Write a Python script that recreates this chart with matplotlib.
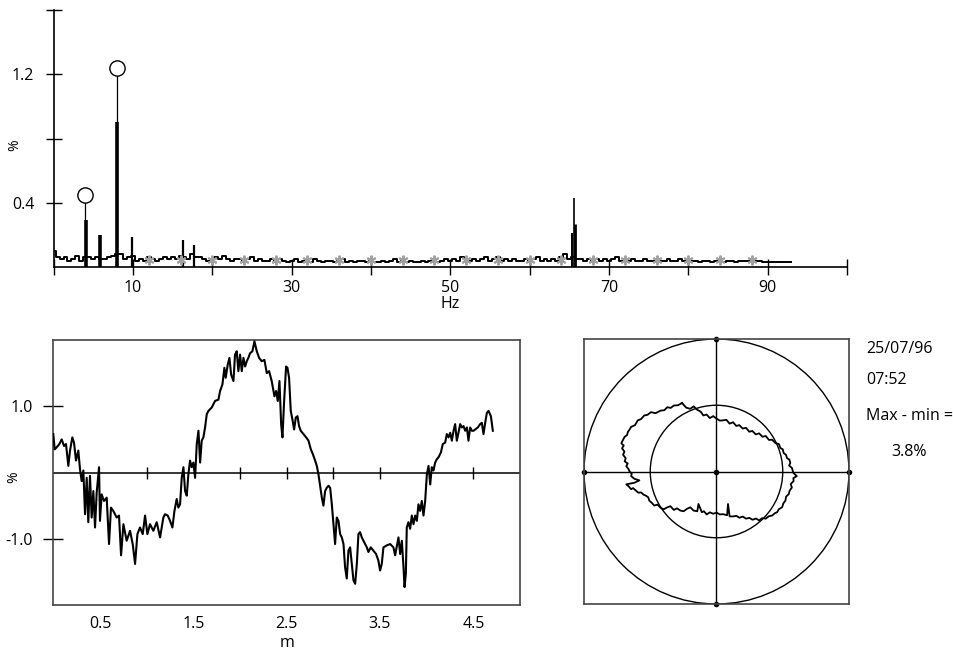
import numpy as np
import matplotlib
matplotlib.use("Agg")
import matplotlib.pyplot as plt
from matplotlib.patches import Circle

plt.rcParams['font.family'] = ['Open Sans', 'DejaVu Sans']

# ---------------- data: spectrum (top) ----------------
spec_step = 0.5
spec_base = [
    0.10, 0.06, 0.05, 0.06, 0.04, 0.05, 0.07, 0.04, 0.06, 0.06,   # 0 - 4.5 Hz
    0.05, 0.06, 0.05, 0.05, 0.06, 0.07, 0.08, 0.08, 0.05, 0.06,   # 5 - 9.5
    0.07, 0.04, 0.05, 0.04, 0.06, 0.05, 0.04, 0.05, 0.06, 0.05,   # 10 - 14.5
    0.06, 0.05, 0.07, 0.06, 0.05, 0.08, 0.06, 0.06, 0.05, 0.04,   # 15 - 19.5
    0.05, 0.06, 0.05, 0.07, 0.05, 0.04, 0.05, 0.05, 0.04, 0.05,   # 20 - 24.5
    0.06, 0.04, 0.05, 0.04, 0.04, 0.05, 0.04, 0.05, 0.04, 0.03,   # 25 - 29.5
    0.04, 0.05, 0.03, 0.04, 0.04, 0.03, 0.05, 0.04, 0.03, 0.04,   # 30 - 34.5
    0.04, 0.03, 0.04, 0.05, 0.03, 0.04, 0.03, 0.04, 0.04, 0.03,   # 35 - 39.5
    0.04, 0.03, 0.03, 0.04, 0.03, 0.04, 0.05, 0.03, 0.04, 0.03,   # 40 - 44.5
    0.04, 0.03, 0.03, 0.04, 0.03, 0.04, 0.03, 0.03, 0.04, 0.05,   # 45 - 49.5
    0.04, 0.05, 0.04, 0.06, 0.05, 0.04, 0.05, 0.04, 0.05, 0.06,   # 50 - 54.5
    0.04, 0.05, 0.06, 0.04, 0.05, 0.04, 0.05, 0.04, 0.04, 0.05,   # 55 - 59.5
    0.04, 0.05, 0.06, 0.04, 0.05, 0.04, 0.05, 0.04, 0.06, 0.08,   # 60 - 64.5
    0.05, 0.06, 0.05, 0.05, 0.04, 0.05, 0.04, 0.05, 0.04, 0.05,   # 65 - 69.5
    0.04, 0.05, 0.06, 0.04, 0.05, 0.04, 0.05, 0.04, 0.04, 0.05,   # 70 - 74.5
    0.04, 0.04, 0.05, 0.04, 0.04, 0.05, 0.04, 0.04, 0.05, 0.04,   # 75 - 79.5
    0.05, 0.04, 0.04, 0.03, 0.04, 0.04, 0.03, 0.04, 0.04, 0.03,   # 80 - 84.5
    0.04, 0.04, 0.03, 0.04, 0.04, 0.04, 0.03, 0.04, 0.04, 0.03,   # 85 - 89.5
    0.03, 0.03, 0.03, 0.03, 0.03, 0.03, 0.03,                     # 90 - 93
]
spec_freq = np.arange(len(spec_base)) * spec_step

spike_freqs = [4.1, 5.9, 8.0, 9.85, 16.3, 17.75, 65.3, 65.55, 65.75]
spike_amps = [0.29, 0.20, 0.90, 0.185, 0.17, 0.14, 0.21, 0.43, 0.27]
spike_widths = [2.6, 2.6, 2.6, 1.6, 1.6, 1.6, 1.4, 1.2, 2.0]

peak_freqs = [3.95, 7.98]
peak_amps = [0.45, 1.24]

harm_freqs = [12, 16, 20, 24, 28, 32, 36, 40, 44, 48, 52, 56, 60, 64,
              68, 72, 76, 80, 84, 88]
harm_level = [0.045] * len(harm_freqs)

top_xticks = [0, 10, 20, 30, 40, 50, 60, 70, 80, 90, 100]
top_xlabels = ['', '10', '', '30', '', '50', '', '70', '', '90', '']
top_yticks = [0.4, 0.8, 1.2, 1.6]
top_ylabels = ['0.4', '', '1.2', '']

# ---------------- data: longitudinal profile (bottom left) ----------------
prof_x = [0.000, 0.015, 0.036, 0.065, 0.090, 0.115, 0.136, 0.161, 0.179, 0.204,
          0.222, 0.243, 0.268, 0.286, 0.304, 0.322, 0.340, 0.358, 0.375, 0.393,
          0.411, 0.429, 0.447, 0.465, 0.490, 0.500, 0.518, 0.543, 0.572, 0.597,
          0.618, 0.643, 0.679, 0.704, 0.726, 0.751, 0.786, 0.822, 0.851, 0.876,
          0.901, 0.929, 0.958, 0.983, 1.008, 1.036, 1.072, 1.108, 1.144, 1.179,
          1.197, 1.226, 1.251, 1.276, 1.298, 1.322, 1.340, 1.358, 1.376, 1.394,
          1.412, 1.430, 1.447, 1.465, 1.483, 1.501, 1.519, 1.537, 1.555, 1.573,
          1.590, 1.608, 1.626, 1.644, 1.662, 1.697, 1.733, 1.769, 1.787, 1.812,
          1.833, 1.847, 1.869, 1.887, 1.905, 1.930, 1.947, 1.965, 1.983, 2.001,
          2.019, 2.037, 2.055, 2.073, 2.090, 2.108, 2.133, 2.155, 2.180, 2.205,
          2.233, 2.262, 2.287, 2.312, 2.340, 2.369, 2.387, 2.405, 2.423, 2.441,
          2.455, 2.473, 2.494, 2.509, 2.526, 2.544, 2.562, 2.580, 2.598, 2.616,
          2.633, 2.651, 2.680, 2.709, 2.734, 2.759, 2.780, 2.805, 2.823, 2.841,
          2.859, 2.877, 2.894, 2.912, 2.930, 2.948, 2.966, 2.984, 3.002, 3.019,
          3.037, 3.055, 3.073, 3.091, 3.109, 3.126, 3.144, 3.162, 3.180, 3.198,
          3.216, 3.234, 3.252, 3.269, 3.287, 3.305, 3.323, 3.341, 3.359, 3.376,
          3.401, 3.430, 3.458, 3.483, 3.501, 3.519, 3.537, 3.573, 3.609, 3.644,
          3.662, 3.698, 3.716, 3.734, 3.752, 3.763, 3.777, 3.787, 3.805, 3.823,
          3.841, 3.859, 3.877, 3.895, 3.912, 3.930, 3.948, 3.966, 3.984, 4.002,
          4.020, 4.038, 4.055, 4.073, 4.091, 4.109, 4.127, 4.152, 4.173, 4.198,
          4.216, 4.234, 4.252, 4.270, 4.288, 4.305, 4.323, 4.341, 4.359, 4.377,
          4.395, 4.413, 4.431, 4.448, 4.466, 4.484, 4.502, 4.520, 4.548, 4.573,
          4.591, 4.609, 4.627, 4.645, 4.663, 4.688, 4.709]
prof_y = [0.58, 0.35, 0.38, 0.43, 0.50, 0.40, 0.43, 0.10, 0.33, 0.53,
          0.45, 0.18, 0.33, 0.05, -0.13, 0.03, -0.63, -0.08, -0.75, -0.05,
          -0.68, -0.28, -0.83, -0.30, 0.08, -0.73, -0.33, -0.43, -0.38, -1.08,
          -0.53, -0.58, -0.68, -0.65, -1.25, -0.78, -1.03, -0.88, -1.08, -1.38,
          -0.93, -0.83, -0.93, -0.65, -0.93, -0.78, -0.88, -0.75, -0.98, -0.68,
          -0.63, -0.65, -0.73, -0.83, -0.58, -0.40, -0.53, -0.48, -0.08, 0.08,
          -0.28, -0.35, -0.03, 0.18, 0.08, 0.15, -0.08, 0.43, 0.63, 0.15,
          0.48, 0.53, 0.68, 0.88, 0.93, 0.98, 1.08, 1.10, 1.23, 1.33,
          1.58, 1.43, 1.63, 1.73, 1.48, 1.38, 1.78, 1.83, 1.53, 1.78,
          1.53, 1.73, 1.60, 1.68, 1.73, 1.80, 1.83, 1.98, 1.83, 1.73,
          1.68, 1.70, 1.50, 1.53, 1.38, 1.15, 1.23, 1.08, 1.38, 0.73,
          0.53, 1.08, 1.60, 1.58, 1.43, 0.93, 0.80, 0.65, 0.83, 0.85,
          0.70, 0.63, 0.58, 0.53, 0.48, 0.35, 0.28, 0.18, 0.10, -0.03,
          -0.20, -0.38, -0.50, -0.28, -0.23, -0.20, -0.23, -0.48, -0.78, -1.08,
          -0.68, -0.73, -0.93, -0.98, -1.08, -1.43, -1.60, -1.18, -1.13, -1.38,
          -1.63, -1.68, -1.38, -0.93, -0.90, -0.98, -1.03, -1.08, -1.13, -1.20,
          -1.13, -1.18, -1.23, -1.33, -1.48, -1.38, -1.13, -1.10, -1.08, -1.13,
          -1.25, -0.98, -1.23, -1.03, -1.43, -1.73, -1.53, -0.83, -0.75, -0.85,
          -0.65, -0.78, -0.65, -0.73, -0.48, -0.58, -0.43, -0.65, -0.43, -0.03,
          0.10, -0.18, 0.08, 0.03, 0.15, 0.20, 0.23, 0.30, 0.43, 0.45,
          0.58, 0.53, 0.60, 0.48, 0.63, 0.73, 0.48, 0.60, 0.73, 0.68,
          0.70, 0.63, 0.68, 0.48, 0.68, 0.63, 0.63, 0.65, 0.68, 0.73,
          0.75, 0.58, 0.75, 0.90, 0.93, 0.85, 0.63]
prof_xticks = [0.5, 1.5, 2.5, 3.5, 4.5]
prof_yticks = [-1.0, 1.0]
zero_line_ticks = [1.0, 2.0, 2.5, 3.0, 3.5, 4.5]

# ---------------- data: polar roundness trace (bottom right) ----------------
polar_pts = [
    (-0.260, 0.517), (-0.229, 0.482), (-0.198, 0.473), (-0.172, 0.492), (-0.149, 0.468),
    (-0.120, 0.452), (-0.099, 0.423), (-0.075, 0.430), (-0.050, 0.403), (-0.025, 0.418),
    (0.000, 0.399), (0.025, 0.384), (0.050, 0.386), (0.075, 0.390), (0.099, 0.361),
    (0.125, 0.372), (0.149, 0.344), (0.172, 0.350), (0.198, 0.324), (0.222, 0.330),
    (0.248, 0.300), (0.270, 0.306), (0.297, 0.280), (0.322, 0.288), (0.347, 0.262),
    (0.372, 0.268), (0.396, 0.238), (0.420, 0.240), (0.446, 0.213), (0.470, 0.208),
    (0.483, 0.176), (0.500, 0.168), (0.507, 0.139), (0.525, 0.125), (0.532, 0.101),
    (0.550, 0.090), (0.557, 0.064), (0.548, 0.045), (0.569, 0.027), (0.580, -0.010),
    (0.606, -0.035), (0.580, -0.050), (0.582, -0.072), (0.560, -0.095), (0.569, -0.121),
    (0.552, -0.145), (0.545, -0.171), (0.525, -0.190), (0.520, -0.220), (0.505, -0.240),
    (0.495, -0.270), (0.470, -0.285), (0.458, -0.307), (0.440, -0.315), (0.421, -0.332),
    (0.395, -0.338), (0.371, -0.356), (0.345, -0.352), (0.322, -0.369), (0.298, -0.355),
    (0.272, -0.364), (0.248, -0.350), (0.223, -0.356), (0.198, -0.340), (0.173, -0.349),
    (0.150, -0.335), (0.124, -0.339), (0.099, -0.339), (0.087, -0.245), (0.080, -0.330),
    (0.050, -0.322), (0.025, -0.324), (0.000, -0.310), (-0.025, -0.319), (-0.050, -0.308),
    (-0.074, -0.324), (-0.095, -0.300), (-0.111, -0.307), (-0.136, -0.245), (-0.145, -0.300),
    (-0.173, -0.295), (-0.198, -0.270), (-0.223, -0.282), (-0.248, -0.300), (-0.272, -0.295),
    (-0.298, -0.278), (-0.322, -0.290), (-0.348, -0.262), (-0.371, -0.270), (-0.398, -0.285),
    (-0.421, -0.275), (-0.445, -0.250), (-0.470, -0.257), (-0.490, -0.235), (-0.507, -0.220),
    (-0.515, -0.195), (-0.532, -0.183), (-0.550, -0.175), (-0.569, -0.158), (-0.590, -0.160),
    (-0.606, -0.146), (-0.630, -0.125), (-0.644, -0.134), (-0.665, -0.110), (-0.681, -0.097),
    (-0.620, -0.085), (-0.582, -0.067), (-0.620, -0.055), (-0.644, -0.035), (-0.640, -0.015),
    (-0.656, 0.000), (-0.665, 0.020), (-0.681, 0.040), (-0.670, 0.060), (-0.693, 0.077),
    (-0.685, 0.100), (-0.705, 0.126), (-0.695, 0.150), (-0.713, 0.176), (-0.700, 0.195),
    (-0.718, 0.213), (-0.705, 0.240), (-0.693, 0.262), (-0.675, 0.275), (-0.668, 0.300),
    (-0.655, 0.318), (-0.644, 0.337), (-0.615, 0.350), (-0.594, 0.386), (-0.570, 0.395),
    (-0.545, 0.423), (-0.520, 0.428), (-0.495, 0.448), (-0.460, 0.440), (-0.421, 0.460),
    (-0.395, 0.462), (-0.371, 0.485), (-0.345, 0.480), (-0.322, 0.498), (-0.290, 0.500),
    (-0.260, 0.517),
]
polar_x = [p[0] for p in polar_pts]
polar_y = [p[1] for p in polar_pts]
ring_radii = [1.0, 0.5]

info_lines = ['25/07/96', '07:52', 'Max - min =']
info_value = '3.8%'

# ---------------- figure ----------------
W, H = 954, 649
fig = plt.figure(figsize=(W / 100, H / 100), dpi=100)
FS = 11.5

# top spectrum
ax1 = fig.add_axes([53.6 / W, 1 - 267 / H, (847 - 53.6) / W, (267 - 10) / H])
ax1.set_xlim(0, 100)
ax1.set_ylim(0, 1.6)
for s in ('top', 'right'):
    ax1.spines[s].set_visible(False)
for s in ('left', 'bottom'):
    ax1.spines[s].set_linewidth(1.2)
ax1.plot(spec_freq, spec_base, color='black', lw=1.4, drawstyle='steps-mid', zorder=3)
for f, a, w in zip(spike_freqs, spike_amps, spike_widths):
    ax1.vlines(f, 0, a, color='black', lw=w, zorder=3)
ax1.vlines(peak_freqs, 0, peak_amps, color='black', lw=0.9, zorder=2)
ax1.plot(peak_freqs, peak_amps, linestyle='none', marker='o', ms=11,
         mfc='white', mec='black', mew=1.0, zorder=5)
ax1.plot(harm_freqs, harm_level, linestyle='none', marker=(6, 2, 0), ms=7,
         color='#a0a0a0', mew=1.4, zorder=4)
ax1.set_xticks(top_xticks)
ax1.set_xticklabels(top_xlabels)
ax1.set_yticks(top_yticks)
ax1.set_yticklabels(top_ylabels)
ax1.tick_params(axis='both', direction='inout', length=12, width=1.0, labelsize=FS)
ax1.tick_params(axis='x', pad=3)
ax1.tick_params(axis='y', pad=8)
ax1.set_xlabel('Hz', fontsize=FS, labelpad=0)
fig.text(15 / W, 1 - 145 / H, '%', rotation=90, fontsize=FS - 1.5, ha='center', va='center')

# bottom-left profile
ax2 = fig.add_axes([53.3 / W, 1 - 605 / H, (520 - 53.3) / W, (605 - 340) / H])
ax2.set_xlim(0, 5.0)
ax2.set_ylim(-2, 2)
for s in ax2.spines.values():
    s.set_linewidth(1.2)
    s.set_color('#444444')
ax2.axhline(0, color='black', lw=1.1, zorder=1)
ax2.plot(zero_line_ticks, [0] * len(zero_line_ticks), linestyle='none',
         marker='|', ms=8, mew=1.0, color='black', zorder=2)
ax2.plot(prof_x, prof_y, color='black', lw=1.5, zorder=3)
ax2.set_xticks(prof_xticks)
ax2.set_xticklabels([f'{v:.1f}' for v in prof_xticks])
ax2.set_yticks(prof_yticks)
ax2.set_yticklabels([f'{v:.1f}' for v in prof_yticks])
ax2.tick_params(axis='x', length=0, pad=8, labelsize=FS)
ax2.tick_params(axis='y', direction='inout', length=15, width=1.0, pad=7, labelsize=FS)
ax2.set_xlabel('m', fontsize=FS, labelpad=2)
fig.text(13.5 / W, 1 - 477 / H, '%', rotation=90, fontsize=FS - 1.5, ha='center', va='center')

# bottom-right polar trace
ax3 = fig.add_axes([582 / W, 1 - 604 / H, (851 - 582) / W, (604 - 339) / H])
ax3.set_xlim(-1, 1)
ax3.set_ylim(-1, 1)
ax3.set_aspect('equal', adjustable='box')
for s in ax3.spines.values():
    s.set_linewidth(1.2)
    s.set_color('#444444')
ax3.set_xticks([])
ax3.set_yticks([])
for r in ring_radii:
    ax3.add_patch(Circle((0, 0), r, fill=False, edgecolor='black', lw=1.0))
ax3.axhline(0, color='black', lw=1.0)
ax3.axvline(0, color='black', lw=1.0)
ax3.plot([0, 1, -1, 0, 0], [0, 0, 0, 1, -1], linestyle='none', marker='o', ms=3,
         color='black', clip_on=False)
ax3.plot(polar_x, polar_y, color='black', lw=1.3)

# info text
ys = [349, 380, 416]
for t, y in zip(info_lines, ys):
    fig.text(866 / W, 1 - y / H, t, fontsize=FS, va='center', ha='left')
fig.text(891 / W, 1 - 452 / H, info_value, fontsize=FS, va='center', ha='left')

fig.savefig('out.png', dpi=100)
